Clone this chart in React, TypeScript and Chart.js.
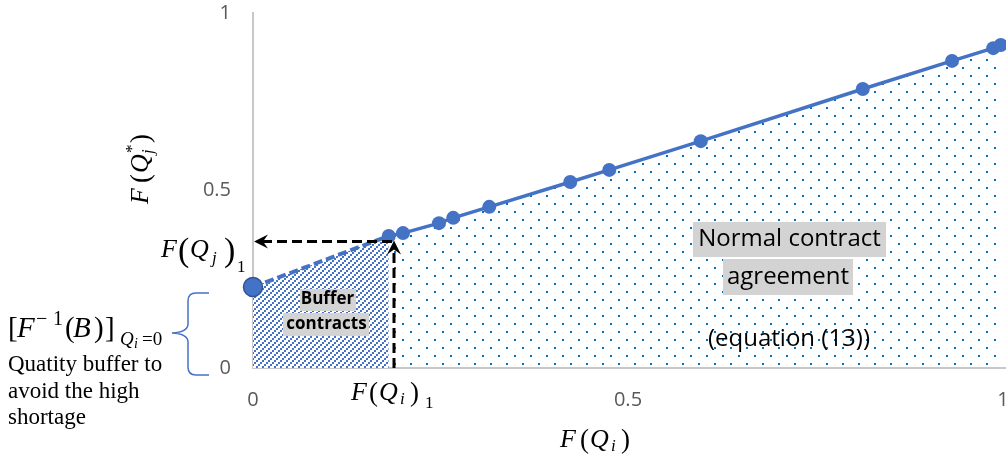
import React, { useEffect, useRef } from 'react';
import { Chart, registerables } from 'chart.js';

Chart.register(...registerables);

// ---- data ----
const curveX = [0.181, 0.2, 0.248, 0.267, 0.315, 0.423, 0.475, 0.597, 0.813, 0.932, 0.987, 0.997];
const curveY = [0.372, 0.38, 0.408, 0.423, 0.454, 0.524, 0.558, 0.639, 0.786, 0.865, 0.901, 0.91];
const bufferX = [0, 0.181];
const bufferY = [0.228, 0.372];
const xTicks = [0, 0.5, 1];
const yTicks = [0, 0.5, 1];
const arrowX = 0.188; // F(Q_i)_1
const arrowY = 0.356; // F(Q_j)_1

const normalLabel = ['Normal contract', 'agreement'];
const equationLabel = '(equation (13))';
const bufferLabel = ['Buffer', 'contracts'];
const noteLines = ['Quatity buffer to', 'avoid the high', 'shortage'];

// ---- styles ----
const BLUE = '#4472C4';
const MATH = '"Liberation Serif", "DejaVu Serif", serif';
const SANS = '"Open Sans", "Noto Sans", sans-serif';
const GREY_BG = '#D3D3D3';
const AXIS = '#C8C8C8';

type Run = { t: string; dx: number; dy?: number; s: number; it?: boolean };

const xTitleRuns: Run[] = [
  { t: 'F', dx: 0, s: 26, it: true },
  { t: '(', dx: 20, s: 27, dy: 1 },
  { t: 'Q', dx: 30, s: 26, it: true },
  { t: 'i', dx: 51, dy: 4, s: 17, it: true },
  { t: ')', dx: 61, s: 27, dy: 1 },
];
const fqi1Runs: Run[] = [
  { t: 'F', dx: 0, s: 26, it: true },
  { t: '(', dx: 18, s: 27, dy: 1 },
  { t: 'Q', dx: 28, s: 26, it: true },
  { t: 'i', dx: 49, dy: 4, s: 17, it: true },
  { t: ')', dx: 59, s: 27, dy: 1 },
  { t: '1', dx: 74, dy: 8, s: 17 },
];
const fqj1Runs: Run[] = [
  { t: 'F', dx: 0, s: 26, it: true },
  { t: '(', dx: 17, s: 34, dy: 4 },
  { t: 'Q', dx: 29, s: 26, it: true },
  { t: 'j', dx: 51, dy: 6, s: 17, it: true },
  { t: ')', dx: 63, s: 34, dy: 4 },
  { t: '1', dx: 76, dy: 15, s: 17 },
];
const yTitleRuns: Run[] = [
  { t: 'F', dx: 0, s: 26, it: true },
  { t: '(', dx: 21, s: 27, dy: 1 },
  { t: 'Q', dx: 31, s: 26, it: true },
  { t: 'j', dx: 50, dy: 5, s: 17, it: true },
  { t: '*', dx: 51, dy: -11, s: 17 },
  { t: ')', dx: 61, s: 27, dy: 1 },
];
const leftRuns: Run[] = [
  { t: '[', dx: 0, s: 29 },
  { t: 'F', dx: 9, s: 29, it: true },
  { t: '\u2212', dx: 28, dy: -12, s: 20 },
  { t: '1', dx: 45, dy: -12, s: 20 },
  { t: '(', dx: 57, s: 29 },
  { t: 'B', dx: 65, s: 29, it: true },
  { t: ')', dx: 86, s: 29 },
  { t: ']', dx: 97, s: 29 },
  { t: 'Q', dx: 112, dy: 8, s: 19, it: true },
  { t: 'i', dx: 126, dy: 11, s: 14, it: true },
  { t: '=0', dx: 134, dy: 8, s: 19 },
];

function drawMath(ctx: CanvasRenderingContext2D, ox: number, oy: number, runs: Run[]) {
  ctx.textAlign = 'left';
  ctx.textBaseline = 'alphabetic';
  ctx.fillStyle = '#000';
  for (const r of runs) {
    ctx.font = `${r.it ? 'italic ' : ''}${r.s}px ${MATH}`;
    ctx.fillText(r.t, ox + r.dx, oy + (r.dy || 0));
  }
}

function boxText(ctx: CanvasRenderingContext2D, text: string, cx: number, cy: number, font: string, padX: number, h: number, bg: boolean) {
  ctx.font = font;
  const w = ctx.measureText(text).width;
  if (bg) {
    ctx.fillStyle = GREY_BG;
    ctx.fillRect(Math.round(cx - w / 2 - padX), Math.round(cy - h / 2), Math.round(w + padX * 2), h);
  }
  ctx.fillStyle = '#000';
  ctx.textAlign = 'center';
  ctx.textBaseline = 'middle';
  ctx.fillText(text, cx, cy);
}

// filled "stealth" arrow head pointing along (ux, uy)
function arrowHead(ctx: CanvasRenderingContext2D, tx: number, ty: number, ux: number, uy: number) {
  const px = -uy;
  const py = ux;
  const L = 14;
  const W = 7;
  const N = 9;
  ctx.beginPath();
  ctx.moveTo(tx, ty);
  ctx.lineTo(tx - ux * L + px * W, ty - uy * L + py * W);
  ctx.lineTo(tx - ux * N, ty - uy * N);
  ctx.lineTo(tx - ux * L - px * W, ty - uy * L - py * W);
  ctx.closePath();
  ctx.fill();
}

const annotations = {
  id: 'annotations',
  afterDatasetsDraw(chart: any) {
    const { ctx, scales } = chart;
    const xs = scales.x;
    const ys = scales.y;
    const x0 = xs.getPixelForValue(0);
    const y0 = ys.getPixelForValue(0);
    const ax = xs.getPixelForValue(arrowX);
    const ay = ys.getPixelForValue(arrowY);
    ctx.save();

    // dashed arrows
    ctx.strokeStyle = '#000';
    ctx.fillStyle = '#000';
    ctx.lineWidth = 3;
    ctx.setLineDash([10, 5]);
    ctx.beginPath();
    ctx.moveTo(ax, y0);
    ctx.lineTo(ax, ay + 10);
    ctx.stroke();
    ctx.beginPath();
    ctx.moveTo(ax - 2, ay);
    ctx.lineTo(x0 + 10, ay);
    ctx.stroke();
    ctx.setLineDash([]);
    arrowHead(ctx, x0 + 1, ay, -1, 0);
    arrowHead(ctx, ax, ay - 1, 0, -1);

    // region labels
    const bFont = `bold 17px ${SANS}`;
    boxText(ctx, bufferLabel[0], 327.5, 299.5, bFont, 1, 22, true);
    boxText(ctx, bufferLabel[1], 326.5, 324, bFont, 3, 23, true);
    const nFont = `24px ${SANS}`;
    boxText(ctx, normalLabel[0], 789.5, 239.5, nFont, 5, 35, true);
    boxText(ctx, normalLabel[1], 788, 277, nFont, 4, 36, true);
    boxText(ctx, equationLabel, 789, 339, nFont, 0, 30, false);

    // math labels
    drawMath(ctx, 560, 447, xTitleRuns);
    drawMath(ctx, 351, 400, fqi1Runs);
    drawMath(ctx, 161, 257, fqj1Runs);
    drawMath(ctx, 8, 337, leftRuns);
    ctx.save();
    ctx.translate(148, 204);
    ctx.rotate(-Math.PI / 2);
    drawMath(ctx, 0, 0, yTitleRuns);
    ctx.restore();

    // note text
    ctx.font = `23px ${MATH}`;
    ctx.fillStyle = '#000';
    ctx.textAlign = 'left';
    ctx.textBaseline = 'alphabetic';
    noteLines.forEach((l, i) => ctx.fillText(l, 8, 371 + i * 26.5));

    // brace
    ctx.strokeStyle = BLUE;
    ctx.lineWidth = 1.5;
    ctx.beginPath();
    ctx.moveTo(209, 293);
    ctx.lineTo(196, 293);
    ctx.quadraticCurveTo(188, 293, 188, 301);
    ctx.lineTo(188, 324);
    ctx.quadraticCurveTo(188, 332, 172, 333);
    ctx.quadraticCurveTo(188, 334, 188, 342);
    ctx.lineTo(188, 367);
    ctx.quadraticCurveTo(188, 375, 196, 375);
    ctx.lineTo(209, 375);
    ctx.stroke();

    ctx.restore();
  },
};

export default function App() {
  const ref = useRef<HTMLCanvasElement>(null);

  useEffect(() => {
    const canvas = ref.current!;
    const c2d = canvas.getContext('2d')!;
    const makePattern = (w: number, h: number, draw: (g: CanvasRenderingContext2D) => void) => {
      const c = document.createElement('canvas');
      c.width = w;
      c.height = h;
      draw(c.getContext('2d')!);
      return c2d.createPattern(c, 'repeat')!;
    };
    const dots = makePattern(16, 16, (g) => {
      g.fillStyle = '#0070C0';
      g.fillRect(2, 3, 2, 2);
      g.fillRect(10, 11, 2, 2);
    });
    const hatch = makePattern(6, 6, (g) => {
      g.fillStyle = '#ffffff';
      g.fillRect(0, 0, 6, 6);
      g.fillStyle = BLUE;
      g.fillRect(0, 4, 2, 2);
      g.fillRect(2, 2, 2, 2);
      g.fillRect(4, 0, 2, 2);
    });

    const curve = curveX.map((v, i) => ({ x: v, y: curveY[i] }));
    const buffer = bufferX.map((v, i) => ({ x: v, y: bufferY[i] }));

    const chart = new Chart(canvas, {
      type: 'line',
      data: {
        datasets: [
          {
            label: 'Normal contract agreement',
            data: curve,
            borderColor: BLUE,
            borderWidth: 3.5,
            pointRadius: 7,
            pointBackgroundColor: BLUE,
            pointBorderColor: BLUE,
            pointBorderWidth: 0,
            backgroundColor: dots,
            fill: 'origin',
            tension: 0,
            clip: false,
          } as any,
          {
            label: 'Buffer contracts',
            data: buffer,
            borderColor: BLUE,
            borderWidth: 4,
            borderDash: [9, 4],
            pointRadius: [9.5, 0],
            pointBackgroundColor: BLUE,
            pointBorderColor: '#2F5597',
            pointBorderWidth: 1.5,
            backgroundColor: hatch,
            fill: 'origin',
            tension: 0,
            clip: false,
          } as any,
        ],
      },
      options: {
        responsive: false,
        animation: false,
        devicePixelRatio: 1,
        events: [],
        layout: { autoPadding: false, padding: { top: 13, left: 0, right: 0, bottom: 0 } },
        plugins: { legend: { display: false }, tooltip: { enabled: false } },
        scales: {
          x: {
            type: 'linear',
            min: 0,
            max: 1.004,
            afterBuildTicks: (s: any) => {
              s.ticks = xTicks.map((v) => ({ value: v }));
            },
            afterFit: (s: any) => {
              s.height = 94;
              s.paddingLeft = 0;
              s.paddingRight = 0;
            },
            grid: { display: false, drawTicks: false },
            border: { display: true, color: AXIS, width: 2 },
            ticks: {
              color: '#595959',
              font: { family: SANS, size: 20 },
              padding: 20,
              maxRotation: 0,
              autoSkip: false,
              callback: (v: any) => String(v),
            },
          },
          y: {
            type: 'linear',
            min: 0,
            max: 1,
            afterBuildTicks: (s: any) => {
              s.ticks = yTicks.map((v) => ({ value: v }));
            },
            afterFit: (s: any) => {
              s.width = 253;
              s.paddingTop = 0;
              s.paddingBottom = 0;
            },
            grid: { display: false, drawTicks: false },
            border: { display: true, color: AXIS, width: 2 },
            ticks: {
              color: '#595959',
              font: { family: SANS, size: 20 },
              padding: 22,
              autoSkip: false,
              callback: (v: any) => String(v),
            },
          },
        },
      } as any,
      plugins: [annotations],
    });
    return () => chart.destroy();
  }, []);

  return (
    <div style={{ position: 'absolute', left: 0, top: 0, width: 1006, height: 462, background: '#fff' }}>
      <canvas ref={ref} width={1006} height={462} style={{ display: 'block', width: 1006, height: 462 }} />
    </div>
  );
}
